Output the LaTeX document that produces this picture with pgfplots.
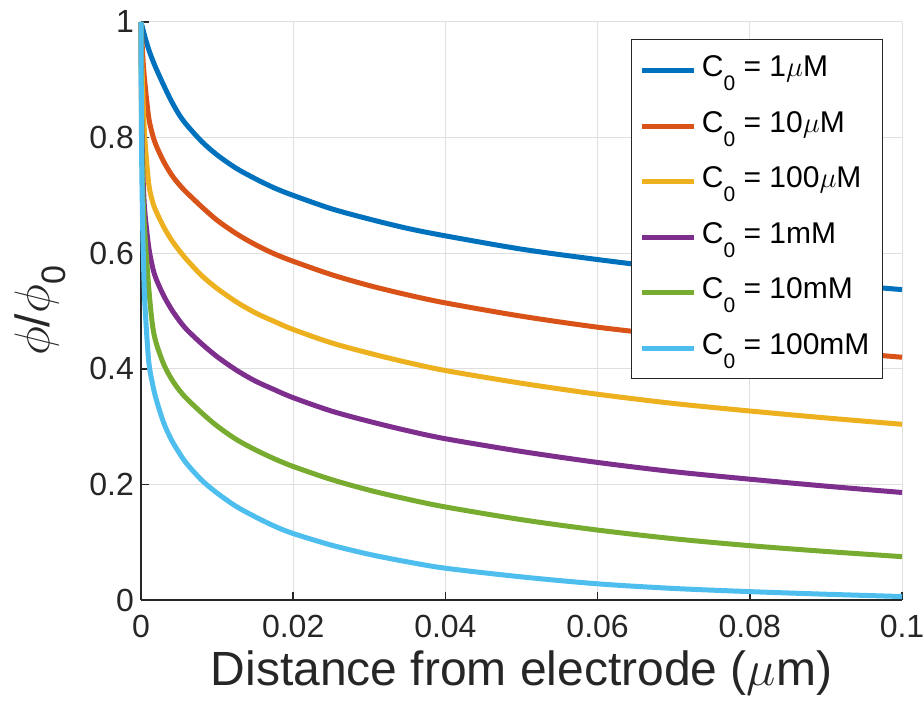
\documentclass[border=0pt]{standalone}
\usepackage{fontspec}
\setmainfont{Liberation Sans}
\usepackage{pgfplots}
\usepackage{pgfplotstable}
\pgfplotsset{compat=1.18}

\definecolor{mBlue}{rgb}{0,0.447,0.741}
\definecolor{mRed}{rgb}{0.850,0.325,0.098}
\definecolor{mYellow}{rgb}{0.929,0.694,0.125}
\definecolor{mPurple}{rgb}{0.494,0.184,0.556}
\definecolor{mGreen}{rgb}{0.466,0.674,0.188}
\definecolor{mCyan}{rgb}{0.301,0.745,0.933}
\definecolor{axgray}{rgb}{0.15,0.15,0.15}
\definecolor{gridgray}{RGB}{223,223,223}

% subscript zero, set low as in the original figure
\newcommand{\lsub}[2]{\raisebox{-#2}{\fontsize{#1}{#1}\selectfont 0}}

% potential ratio, one column per concentration
\pgfplotstableread{
x        B      R      Y      P      G      L
0        1      1      1      1      1      1
0.00005  0.9975 0.985  0.962  0.890  0.870  0.840
0.0001   0.995  0.972  0.935  0.830  0.800  0.750
0.0002   0.990  0.949  0.890  0.760  0.725  0.660
0.0003   0.985  0.928  0.855  0.720  0.685  0.600
0.0005   0.975  0.896  0.800  0.672  0.635  0.515
0.001    0.953  0.836  0.722  0.612  0.5425 0.415
0.0015   0.935  0.806  0.690  0.577  0.4765 0.375
0.002    0.919  0.786  0.672  0.555  0.4445 0.347
0.003    0.890  0.758  0.645  0.526  0.4075 0.306
0.004    0.863  0.736  0.623  0.503  0.3825 0.277
0.005    0.840  0.719  0.605  0.484  0.3635 0.255
0.006    0.822  0.705  0.589  0.468  0.3485 0.236
0.008    0.793  0.680  0.561  0.443  0.3235 0.207
0.01     0.770  0.657  0.539  0.421  0.301  0.185
0.0125   0.747  0.634  0.516  0.398  0.278  0.162
0.015    0.729  0.615  0.497  0.379  0.260  0.144
0.0175   0.713  0.599  0.482  0.364  0.2445 0.128
0.02     0.700  0.586  0.468  0.350  0.231  0.115
0.025    0.677  0.563  0.445  0.327  0.2085 0.095
0.03     0.659  0.544  0.427  0.309  0.190  0.079
0.035    0.643  0.528  0.411  0.293  0.1745 0.066
0.04     0.630  0.514  0.397  0.279  0.161  0.055
0.05     0.607  0.491  0.375  0.257  0.139  0.040
0.06     0.589  0.472  0.356  0.238  0.121  0.028
0.07     0.573  0.457  0.340  0.222  0.106  0.020
0.08     0.560  0.443  0.327  0.209  0.094  0.0145
0.09     0.548  0.431  0.315  0.197  0.084  0.010
0.1      0.537  0.420  0.304  0.186  0.075  0.006
}\phidata

\begin{document}
\begin{tikzpicture}
\useasboundingbox (-70.5pt,-58.5pt) rectangle (391.5pt,300pt);
\begin{axis}[
  at={(0,0)}, anchor=south west,
  scale only axis,
  width=380.5pt, height=289pt,
  xmin=0, xmax=0.1, ymin=0, ymax=1,
  clip=false,
  axis x line*=bottom, axis y line*=left,
  axis line style={axgray, line width=0.75pt, -},
  tick align=inside,
  major tick length=4pt,
  tick style={axgray, line width=0.75pt},
  xtick={0,0.02,0.04,0.06,0.08,0.1},
  xticklabels={0,0.02,0.04,0.06,0.08,0.1},
  ytick={0,0.2,0.4,0.6,0.8,1},
  yticklabels={0,0.2,0.4,0.6,0.8,1},
  /pgf/number format/assume math mode=true,
  ticklabel style={font=\fontsize{16}{16}\selectfont, text=axgray},
  xticklabel style={yshift=-4pt},
  grid=major,
  major grid style={gridgray, line width=0.5pt},
  xlabel={Distance from electrode ($\mu$m)},
  xlabel style={at={(axis description cs:0.5,0)}, anchor=base, yshift=-42.5pt,
    font=\fontsize{24}{24}\selectfont, text=axgray},
  ylabel={$\phi$/$\phi$\lsub{17pt}{8pt}},
  ylabel style={at={(axis description cs:-0.133,0.5)}, anchor=center, rotate=0,
    font=\fontsize{24}{24}\selectfont, text=axgray},
  legend cell align=left,
  legend style={at={(rel axis cs:0.975,0.970)}, anchor=north east,
    draw=axgray, line width=0.5pt, fill=white,
    inner xsep=4pt, inner ysep=1.5pt, row sep=0pt,
    font=\fontsize{15}{15}\selectfont,
    nodes={inner xsep=2.5pt, inner ysep=0pt, text height=17pt, text depth=10.75pt}},
  legend image code/.code={\draw[#1] (1pt,0pt) -- (27pt,0pt);},
  every axis plot/.append style={line width=2.5pt, smooth, tension=0.5},
]
\addplot[mBlue]   table[x=x, y=B] {\phidata};
\addplot[mRed]    table[x=x, y=R] {\phidata};
\addplot[mYellow] table[x=x, y=Y] {\phidata};
\addplot[mPurple] table[x=x, y=P] {\phidata};
\addplot[mGreen]  table[x=x, y=G] {\phidata};
\addplot[mCyan]   table[x=x, y=L] {\phidata};
\legend{C\lsub{10.5pt}{7pt} = 1$\mu$M, C\lsub{10.5pt}{7pt} = 10$\mu$M,
  C\lsub{10.5pt}{7pt} = 100$\mu$M, C\lsub{10.5pt}{7pt} = 1mM,
  C\lsub{10.5pt}{7pt} = 10mM, C\lsub{10.5pt}{7pt} = 100mM}
\end{axis}
\end{tikzpicture}
\end{document}
